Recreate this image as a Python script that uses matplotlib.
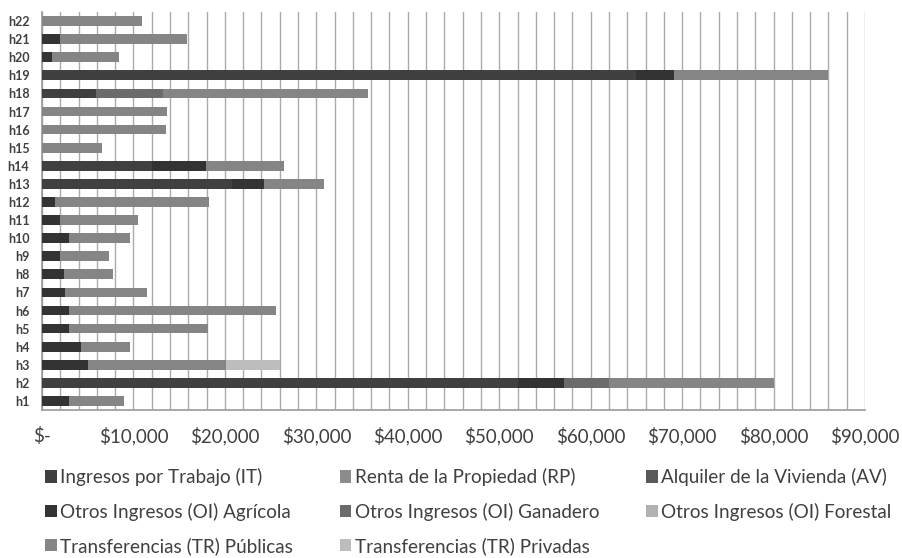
"""Ingresos por hogar (h1-h22), barras horizontales apiladas por fuente de ingreso."""
import matplotlib
matplotlib.use("Agg")
import matplotlib.pyplot as plt
import numpy as np
from matplotlib.ticker import FuncFormatter, MultipleLocator

plt.rcParams["font.family"] = ["Lato", "DejaVu Sans"]

hogares = [f"h{i}" for i in range(1, 23)]

series = [
    "Ingresos por Trabajo (IT)",
    "Renta de la Propiedad (RP)",
    "Alquiler de la Vivienda (AV)",
    "Otros Ingresos (OI) Agrícola",
    "Otros Ingresos (OI) Ganadero",
    "Otros Ingresos (OI) Forestal",
    "Transferencias (TR) Públicas",
    "Transferencias (TR) Privadas",
]
colores = ["#404040", "#8c8c8c", "#595959", "#333333",
           "#6b6b6b", "#b2b2b2", "#858585", "#bdbdbd"]

#                    h1     h2     h3    h4    h5    h6    h7    h8    h9   h10   h11
it_trabajo   = [    0, 52050,     0,    0,    0,    0,    0,    0,    0,    0,    0,
#                   h12  h13    h14  h15  h16  h17   h18    h19  h20  h21  h22
                    0, 20800, 12000,  0,   0,   0,  5900, 65000,  0,   0,   0]
rp_renta     = [0] * 22
av_alquiler  = [0] * 22
oi_agricola  = [2950, 5000, 4990, 4220, 2950, 2950, 2510, 2400, 2000, 2950, 2000,
                1420, 3470, 5940, 0, 0, 0, 0, 4100, 1130, 2000, 0]
oi_ganadero  = [0, 5000, 0, 0, 0, 0, 0, 0, 0, 0, 0,
                0, 0, 0, 0, 0, 0, 7300, 0, 0, 0, 0]
oi_forestal  = [0] * 22
tr_publicas  = [5980, 18000, 15090, 5360, 15200, 22600, 9010, 5360, 5330, 6630, 8530,
                16840, 6590, 8530, 6560, 13520, 13630, 22400, 16900, 7250, 13900, 10900]
tr_privadas  = [0, 0, 5980, 0, 0, 0, 0, 0, 0, 0, 0,
                0, 0, 0, 0, 0, 0, 0, 0, 0, 0, 0]

valores = [it_trabajo, rp_renta, av_alquiler, oi_agricola,
           oi_ganadero, oi_forestal, tr_publicas, tr_privadas]


def moneda(x, pos):
    if abs(x) < 1:
        return "$-"
    return f"${x:,.0f}"


fig = plt.figure(figsize=(9.02, 5.58), dpi=100)
ax = fig.add_axes([42 / 902, 1 - 410 / 558, 823 / 902, 398 / 558])

y = np.arange(len(hogares))
izq = np.zeros(len(hogares))
handles = []
for nombre, vals, c in zip(series, valores, colores):
    vals = np.array(vals, dtype=float)
    b = ax.barh(y, vals, left=izq, height=0.54, color=c, label=nombre, zorder=3)
    handles.append(b)
    izq += vals

ax.set_xlim(0, 90000)
ax.set_ylim(-0.5, len(hogares) - 0.5)
ax.set_yticks(y)
ax.set_yticklabels(hogares, fontsize=9, fontweight="bold", color="#404040")
ax.xaxis.set_major_locator(MultipleLocator(10000))
ax.xaxis.set_minor_locator(MultipleLocator(2000))
ax.xaxis.set_major_formatter(FuncFormatter(moneda))
ax.tick_params(axis="x", which="both", length=0, labelsize=13.5, pad=12,
               labelcolor="#404040")
ax.tick_params(axis="y", length=0, pad=9)
ax.grid(axis="x", which="both", color="#ababab", linewidth=1, zorder=0)
for s in ("top", "right"):
    ax.spines[s].set_visible(False)
for s in ("left", "bottom"):
    ax.spines[s].set_color("#9a9a9a")
    ax.spines[s].set_linewidth(1.2)

orden = [0, 3, 6, 1, 4, 7, 2, 5]
fig.legend([handles[i] for i in orden], [series[i] for i in orden],
           ncol=3, loc="upper left", bbox_to_anchor=(45 / 902, 1 - 468 / 558),
           frameon=False, fontsize=13.6, handlelength=0.62, handleheight=0.62,
           handletextpad=0.2, columnspacing=2.45, labelspacing=0.87,
           borderaxespad=0, borderpad=0, labelcolor="#404040")

fig.savefig("out.png", dpi=100)
